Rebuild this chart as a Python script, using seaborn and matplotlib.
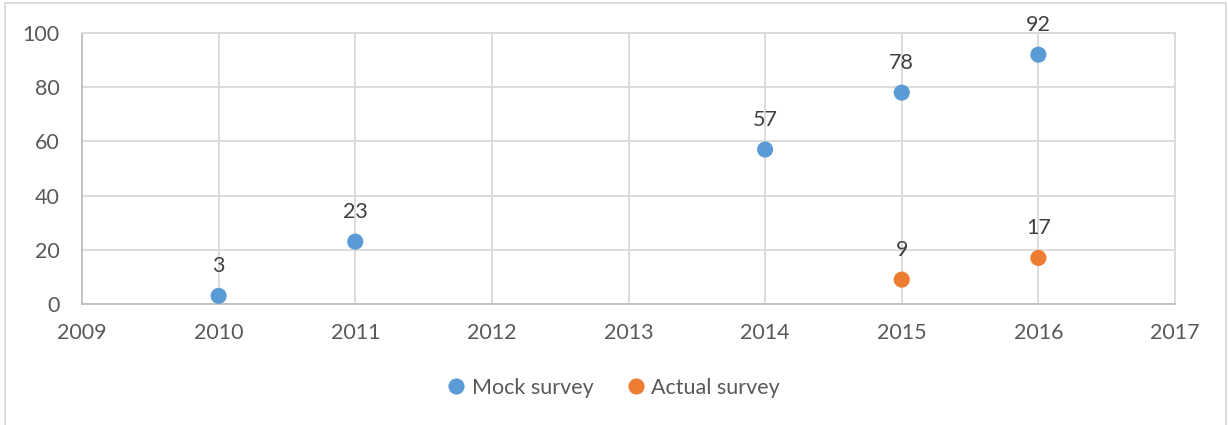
import matplotlib
matplotlib.use("Agg")
import matplotlib.pyplot as plt
import seaborn as sns
import pandas as pd
from matplotlib.patches import Rectangle

# Survey counts per year
mock_years = [2010, 2011, 2014, 2015, 2016]
mock_values = [3, 23, 57, 78, 92]
actual_years = [2015, 2016]
actual_values = [9, 17]
series_names = ["Mock survey", "Actual survey"]
x_ticks = [2009, 2010, 2011, 2012, 2013, 2014, 2015, 2016, 2017]
y_ticks = [0, 20, 40, 60, 80, 100]

df = pd.DataFrame({
    "year": mock_years + actual_years,
    "value": mock_values + actual_values,
    "series": [series_names[0]] * len(mock_years) + [series_names[1]] * len(actual_years),
})

sns.set_theme(style="white")
plt.rcParams["font.family"] = ["Lato", "DejaVu Sans"]

palette = {series_names[0]: "#5B9BD5", series_names[1]: "#ED7D31"}
text_color = "#595959"
label_color = "#404040"
grid_color = "#D9D9D9"

fig = plt.figure(figsize=(12.28, 4.25), dpi=100)
ax = fig.add_axes([82 / 1228, 1 - 304 / 425, (1175 - 82) / 1228, (304 - 33) / 425])

sns.scatterplot(data=df, x="year", y="value", hue="series", palette=palette,
                s=135, edgecolor="none", ax=ax, legend=True, zorder=3)

# Value labels above each point
for _, row in df.iterrows():
    ax.annotate(f"{row['value']}", (row["year"], row["value"]),
                xytext=(0, 17), textcoords="offset points",
                ha="center", va="baseline", fontsize=15.5, color=label_color)

ax.set_xlim(x_ticks[0], x_ticks[-1])
ax.set_ylim(y_ticks[0], y_ticks[-1])
ax.set_xticks(x_ticks)
ax.set_yticks(y_ticks)
ax.set_xlabel("")
ax.set_ylabel("")
ax.grid(True, color=grid_color, linewidth=1.3)
ax.set_axisbelow(True)
for side, sp in ax.spines.items():
    sp.set_color("#BFBFBF" if side in ("left", "bottom") else grid_color)
    sp.set_linewidth(1.3)
ax.tick_params(axis="x", labelsize=15.5, labelcolor=text_color, pad=14, length=0)
ax.tick_params(axis="y", labelsize=15.5, labelcolor=text_color, pad=16, length=0)

handles, labels = ax.get_legend_handles_labels()
ax.legend(handles, labels, loc="center", bbox_to_anchor=(0.5, (425 - 388) / 425),
          bbox_transform=fig.transFigure, ncol=2, frameon=False, fontsize=15.5,
          labelcolor=text_color, handlelength=0.8, handletextpad=0.3,
          columnspacing=1.6, markerscale=1.0)

# Chart frame
fig.patches.append(Rectangle((5 / 1228, -0.05), (1226 - 5) / 1228, 1.05 - 3 / 425,
                             transform=fig.transFigure, fill=False,
                             edgecolor=grid_color, linewidth=1.3))

fig.savefig("out.png", dpi=100)
